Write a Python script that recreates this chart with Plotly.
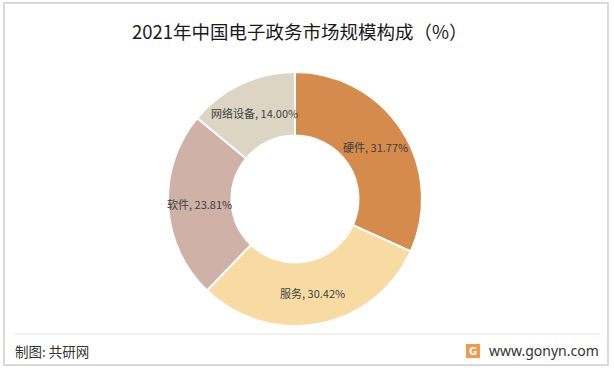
import math
import plotly.graph_objects as go

labels = ["硬件", "服务", "软件", "网络设备"]
values = [31.77, 30.42, 23.81, 14.00]
colors = ["#D48B4C", "#F8DBA3", "#CFB1A7", "#DDD5C4"]
title = "2021年中国电子政务市场规模构成（%）"
source = "制图: 共研网"
site = "www.gonyn.com"

W, H = 614, 370
CX, CY, R = 295, 199, 127
HOLE = 0.5

fig = go.Figure(go.Pie(
    labels=labels, values=values, sort=False, direction="clockwise", rotation=0,
    hole=HOLE,
    marker=dict(colors=colors, line=dict(color="white", width=2)),
    textinfo="none",
    domain=dict(x=[(CX - R) / W, (CX + R) / W], y=[1 - (CY + R) / H, 1 - (CY - R) / H]),
    showlegend=False, hoverinfo="label+value",
))

# label positions at the middle of each ring segment, derived from the values
total = sum(values)
label_anns = []
cum = 0.0
rm = R * (1 + HOLE) / 2
for lab, v in zip(labels, values):
    mid = (cum + v / 2) / total * 2 * math.pi
    cum += v
    px = CX + rm * math.sin(mid)
    py = CY - rm * math.cos(mid)
    label_anns.append(dict(
        text=f"{lab}, {v:.2f}%", x=px / W, y=1 - py / H, xref="paper", yref="paper",
        showarrow=False, xanchor="center", yanchor="middle",
        font=dict(family="Noto Sans CJK SC", size=11, color="#404040")))

fig.update_layout(
    width=W, height=H, margin=dict(l=0, r=0, t=0, b=0),
    paper_bgcolor="white", plot_bgcolor="white",
    shapes=[
        dict(type="rect", xref="paper", yref="paper", x0=4 / W, x1=608 / W, y0=1 - 365 / H, y1=1 - 3 / H,
             line=dict(color="#D9D9D9", width=2)),
        dict(type="line", xref="paper", yref="paper", x0=14 / W, x1=600 / W, y0=1 - 334 / H, y1=1 - 334 / H,
             line=dict(color="#E3E3E3", width=1)),
        dict(type="rect", xref="paper", yref="paper", x0=466 / W, x1=480 / W, y0=1 - 358 / H, y1=1 - 344 / H,
             fillcolor="#F39A4E", line=dict(width=0)),
    ],
    annotations=label_anns + [
        dict(text=title, x=300 / W, y=1 - 31 / H, xref="paper", yref="paper", showarrow=False,
             xanchor="center", yanchor="middle",
             font=dict(family="Noto Sans CJK SC", size=18.5, color="#1a1a1a")),
        dict(text=source, x=13 / W, y=1 - 351 / H, xref="paper", yref="paper", showarrow=False,
             xanchor="left", yanchor="middle",
             font=dict(family="Noto Sans CJK SC", size=13.5, color="#333333")),
        dict(text=site, x=601 / W, y=1 - 350 / H, xref="paper", yref="paper", showarrow=False,
             xanchor="right", yanchor="middle",
             font=dict(family="Noto Sans", size=14, color="#333333")),
        dict(text="<b>G</b>", x=473 / W, y=1 - 351 / H, xref="paper", yref="paper", showarrow=False,
             xanchor="center", yanchor="middle",
             font=dict(family="DejaVu Sans", size=10, color="white")),
    ],
)

fig.write_html("out.html")
